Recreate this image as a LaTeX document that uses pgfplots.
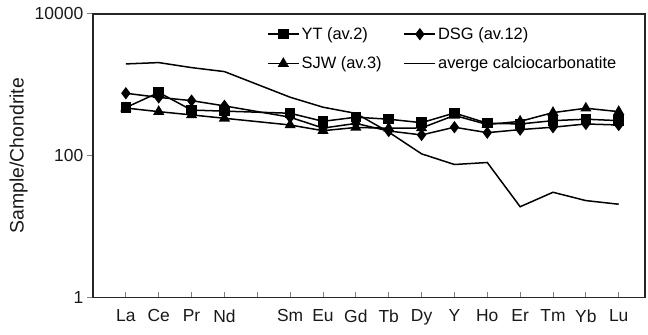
\documentclass[border=0pt]{standalone}
\usepackage{fontspec}
\setmainfont{Liberation Sans}
\usepackage{pgfplots}
\pgfplotsset{compat=1.18}
\begin{document}
\begin{tikzpicture}
\begin{axis}[
  scale only axis,
  width=552bp, height=283.3bp,
  at={(0,0)}, anchor=south west,
  xmin=0, xmax=16.8,
  ymode=log, ymin=1, ymax=10000,
  xtick={1,2,3,4,5,6,7,8,9,10,11,12,13,14,15,16},
  xticklabels={La,Ce,Pr,Nd,,Sm,Eu,Gd,Tb,Dy,Y,Ho,Er,Tm,Yb,Lu},
  ytick={1,100,10000},
  yticklabels={1,100,10000},
  minor ytick={},
  xtick pos=bottom, ytick pos=left,
  x tick style={/pgfplots/major tick length=5bp, line width=1bp},
  y tick style={/pgfplots/major tick length=6bp, line width=1bp},
  xtick align=inside, ytick align=outside,
  axis line style={line width=1.2bp, black!85},
  tick label style={font=\fontsize{17.5}{19}\selectfont, black!90},
  xticklabel style={yshift=-9bp},
  yticklabel style={xshift=-2bp},
  ylabel={Sample/Chondrite},
  every axis y label/.style={at={(axis description cs:-0.135,0.5)}, rotate=90, anchor=center, font=\fontsize{19.5}{21}\selectfont, black!90},
  /pgf/number format/assume math mode=true,
  legend columns=2,
  legend style={draw=none, fill=none, font=\fontsize{16.5}{18}\selectfont,
    at={(axis description cs:0.315,0.96)}, anchor=north west,
    row sep=12bp, inner sep=0pt,
    /tikz/every even column/.append style={column sep=20bp}},
  legend cell align=left,
  legend image code/.code={\draw[mark repeat=2,mark phase=2] plot coordinates {(0bp,0bp) (15.5bp,0bp) (31bp,0bp)};},
]
\addplot[black, line width=1.5bp, mark=square*, mark size=4.5bp, mark options={solid, fill=black}] coordinates {
(1,477) (2,780) (3,440) (4,425) (6,397) (7,305) (8,349) (9,327) (10,292) (11,400) (12,287) (13,280) (14,312) (15,327) (16,312)};
\addlegendentry{YT (av.2)}
\addplot[black, line width=1.5bp, mark=diamond*, mark size=5bp, mark options={solid, fill=black}] coordinates {
(1,760) (2,665) (3,598) (4,504) (6,349) (7,245) (8,285) (9,223) (10,196) (11,252) (12,211) (13,233) (14,252) (15,280) (16,271)};
\addlegendentry{DSG (av.12)}
\addplot[black, line width=1.5bp, mark=triangle*, mark size=5bp, mark options={solid, fill=black}] coordinates {
(1,470) (2,418) (3,376) (4,337) (6,271) (7,225) (8,250) (9,244) (10,246) (11,370) (12,275) (13,305) (14,405) (15,467) (16,418)};
\addlegendentry{SJW (av.3)}
\addplot[black, line width=1.5bp] coordinates {
(1,1973) (2,2060) (3,1750) (4,1537) (6,668) (7,483) (8,395) (9,215) (10,106) (11,75) (12,80) (13,19) (14,30.4) (15,23.2) (16,20.6)};
\addlegendentry{averge calciocarbonatite}
\end{axis}
\pgfresetboundingbox
\path (-93bp,-37.7bp) rectangle (555bp,297.3bp);
\end{tikzpicture}
\end{document}
